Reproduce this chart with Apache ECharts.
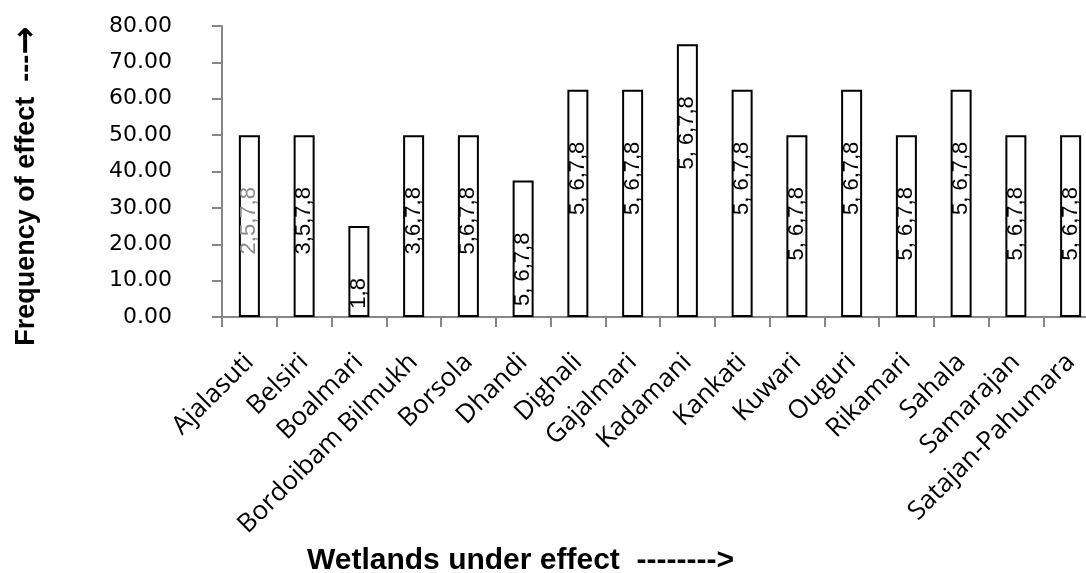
<!DOCTYPE html>
<html>
<head>
<meta charset="utf-8">
<script src="https://cdn.jsdelivr.net/npm/echarts@6/dist/echarts.min.js"></script>
<style>
  html, body { margin: 0; padding: 0; background: #fff; overflow: hidden; }
  #chart { width: 1100px; height: 573px; }
</style>
</head>
<body>
<div id="chart"></div>
<script>
const categories = ["Ajalasuti", "Belsiri", "Boalmari", "Bordoibam Bilmukh", "Borsola", "Dhandi", "Dighali", "Gajalmari", "Kadamani", "Kankati", "Kuwari", "Ouguri", "Rikamari", "Sahala", "Samarajan", "Satajan-Pahumara"];
const values = [50, 50, 25, 50, 50, 37.5, 62.5, 62.5, 75, 62.5, 50, 62.5, 50, 62.5, 50, 50];
const barLabels = ["2,5,7,8", "3,5,7,8", "1,8", "3,6,7,8", "5,6,7,8", "5, 6,7,8", "5, 6,7,8", "5, 6,7,8", "5, 6,7,8", "5, 6,7,8", "5, 6,7,8", "5, 6,7,8", "5, 6,7,8", "5, 6,7,8", "5, 6,7,8", "5, 6,7,8"];
const fadedLabel = [true, false, false, false, false, false, false, false, false, false, false, false, false, false, false, false];
const yMin = 0, yMax = 80, yInterval = 10;
const xTitle = "Wetlands under effect  -------->";
const yTitleText = "Frequency of effect  ---";
const yTitleArrow = "\u2192";

const chart = echarts.init(document.getElementById('chart'), null, { renderer: 'canvas' });
const axisGray = '#868686';

const option = {
  animation: false,
  backgroundColor: '#ffffff',
  grid: { left: 222, top: 26, right: 2, bottom: 256, containLabel: false },
  xAxis: {
    type: 'category',
    data: categories,
    axisLine: { lineStyle: { color: axisGray, width: 2 } },
    axisTick: { show: true, length: 10, lineStyle: { color: axisGray, width: 2 } },
    axisLabel: {
      rotate: 45, interval: 0, margin: 41,
      fontFamily: 'Open Sans', fontSize: 26, color: '#000'
    }
  },
  yAxis: {
    type: 'value',
    min: yMin, max: yMax, interval: yInterval,
    axisLine: { show: true, lineStyle: { color: axisGray, width: 2 } },
    axisTick: { show: true, length: 10, lineStyle: { color: axisGray, width: 2 } },
    splitLine: { show: false },
    axisLabel: {
      margin: 50, fontFamily: 'DejaVu Sans', fontSize: 22, color: '#000',
      formatter: v => v.toFixed(2), padding: [0, 0, 8, 0]
    }
  },
  graphic: [
    {
      type: 'text', left: 307, top: 546,
      style: { text: xTitle, font: 'bold 30px "Liberation Sans", Arial, sans-serif', fill: '#000' }
    },
    {
      type: 'text', x: 27, y: 186, rotation: Math.PI / 2,
      style: {
        text: '{t|' + yTitleText + '}{a|' + yTitleArrow + '}',
        textAlign: 'center', textVerticalAlign: 'middle',
        rich: {
          t: { font: 'bold 27px "Liberation Sans", Arial, sans-serif', fill: '#000' },
          a: { font: 'bold 34px "DejaVu Sans", sans-serif', fill: '#000' }
        }
      }
    }
  ],
  series: [{
    type: 'bar',
    barWidth: 21,
    data: values.map((v, i) => ({
      value: v,
      label: { formatter: barLabels[i], color: fadedLabel[i] ? '#8a8a8a' : '#000' }
    })),
    itemStyle: { color: '#ffffff', borderColor: '#000000', borderWidth: 2 },
    label: {
      show: true, position: 'insideTop', distance: 52, rotate: 90,
      align: 'right', verticalAlign: 'middle',
      fontFamily: 'Liberation Sans', fontSize: 22
    }
  }]
};
chart.setOption(option);
</script>
</body>
</html>
